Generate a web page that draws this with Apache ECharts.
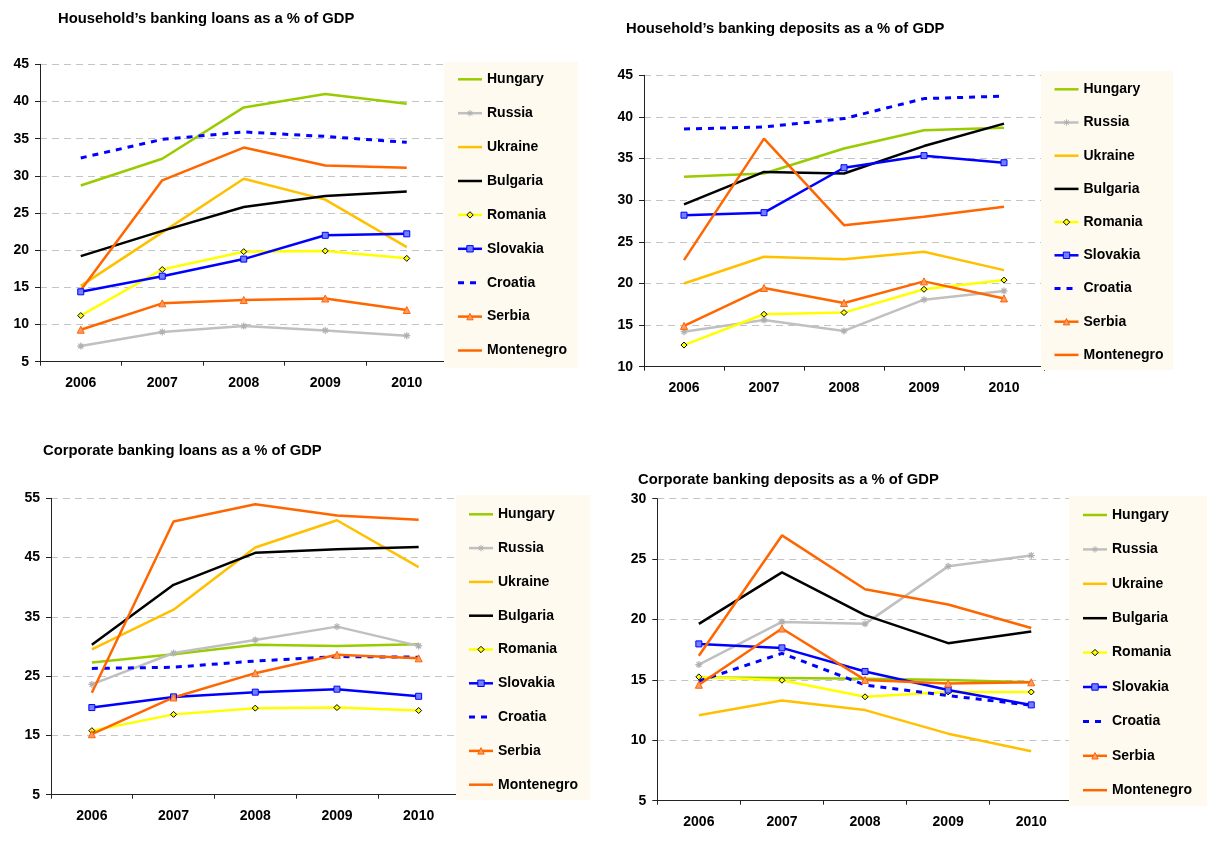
<!DOCTYPE html>
<html>
<head>
<meta charset="utf-8">
<script src="https://cdn.jsdelivr.net/npm/echarts@6/dist/echarts.min.js"></script>
<style>
html,body{margin:0;padding:0;background:#fff;}
#chart{width:1207px;height:843px;}
</style>
</head>
<body>
<div id="chart"></div>
<script>
// ---------- data ----------
const years = ['2006', '2007', '2008', '2009', '2010'];
const countries = ['Hungary', 'Russia', 'Ukraine', 'Bulgaria', 'Romania', 'Slovakia', 'Croatia', 'Serbia', 'Montenegro'];
const titles = [
  'Household\u2019s banking loans as a % of GDP',
  'Household\u2019s banking deposits as a % of GDP',
  'Corporate banking loans as a % of GDP',
  'Corporate banking deposits as a % of GDP'
];

// Household's banking loans
const hhLoansHungary    = [28.7, 32.3, 39.2, 41.0, 39.7];
const hhLoansRussia     = [7.1, 9.0, 9.8, 9.2, 8.5];
const hhLoansUkraine    = [15.2, 22.4, 29.6, 26.8, 20.4];
const hhLoansBulgaria   = [19.2, 22.6, 25.8, 27.3, 27.9];
const hhLoansRomania    = [11.2, 17.4, 19.8, 19.9, 18.9];
const hhLoansSlovakia   = [14.4, 16.5, 18.8, 22.0, 22.2];
const hhLoansCroatia    = [32.4, 34.9, 35.9, 35.3, 34.5];
const hhLoansSerbia     = [9.3, 12.85, 13.3, 13.5, 11.95];
const hhLoansMontenegro = [14.6, 29.4, 33.8, 31.4, 31.1];

// Household's banking deposits
const hhDepHungary    = [32.8, 33.2, 36.2, 38.4, 38.7];
const hhDepRussia     = [14.2, 15.6, 14.3, 18.05, 19.1];
const hhDepUkraine    = [20.0, 23.2, 22.9, 23.8, 21.6];
const hhDepBulgaria   = [29.5, 33.4, 33.2, 36.5, 39.2];
const hhDepRomania    = [12.6, 16.3, 16.5, 19.3, 20.4];
const hhDepSlovakia   = [28.2, 28.5, 33.9, 35.35, 34.5];
const hhDepCroatia    = [38.55, 38.8, 39.8, 42.2, 42.5];
const hhDepSerbia     = [14.9, 19.45, 17.65, 20.25, 18.2];
const hhDepMontenegro = [22.8, 37.4, 27.0, 28.0, 29.2];

// Corporate banking loans
const corpLoansHungary    = [27.3, 28.7, 30.3, 30.1, 30.4];
const corpLoansRussia     = [23.6, 28.9, 31.1, 33.35, 30.1];
const corpLoansUkraine    = [29.5, 36.2, 46.7, 51.3, 43.4];
const corpLoansBulgaria   = [30.3, 40.4, 45.8, 46.4, 46.8];
const corpLoansRomania    = [15.8, 18.55, 19.6, 19.7, 19.2];
const corpLoansSlovakia   = [19.7, 21.5, 22.3, 22.8, 21.6];
const corpLoansCroatia    = [26.3, 26.5, 27.55, 28.3, 28.2];
const corpLoansSerbia     = [15.2, 21.4, 25.5, 28.6, 28.0];
const corpLoansMontenegro = [22.2, 51.1, 54.0, 52.1, 51.4];

// Corporate banking deposits
const corpDepHungary    = [15.2, 15.15, 15.1, 15.0, 14.8];
const corpDepRussia     = [16.27, 19.8, 19.64, 24.4, 25.3];
const corpDepUkraine    = [12.07, 13.3, 12.5, 10.55, 9.1];
const corpDepBulgaria   = [19.64, 23.9, 20.36, 18.04, 19.0];
const corpDepRomania    = [15.25, 14.97, 13.6, 14.0, 14.0];
const corpDepSlovakia   = [17.98, 17.65, 15.7, 14.16, 12.93];
const corpDepCroatia    = [14.9, 17.2, 14.58, 13.7, 12.9];
const corpDepSerbia     = [14.6, 19.25, 15.0, 14.7, 14.8];
const corpDepMontenegro = [17.0, 26.96, 22.5, 21.24, 19.3];

// y-axis ranges (min, max, step)
const yMin = [5, 10, 5, 5];
const yMax = [45, 45, 55, 30];
const yStep = [5, 5, 10, 5];

const panelData = [
  [hhLoansHungary, hhLoansRussia, hhLoansUkraine, hhLoansBulgaria, hhLoansRomania, hhLoansSlovakia, hhLoansCroatia, hhLoansSerbia, hhLoansMontenegro],
  [hhDepHungary, hhDepRussia, hhDepUkraine, hhDepBulgaria, hhDepRomania, hhDepSlovakia, hhDepCroatia, hhDepSerbia, hhDepMontenegro],
  [corpLoansHungary, corpLoansRussia, corpLoansUkraine, corpLoansBulgaria, corpLoansRomania, corpLoansSlovakia, corpLoansCroatia, corpLoansSerbia, corpLoansMontenegro],
  [corpDepHungary, corpDepRussia, corpDepUkraine, corpDepBulgaria, corpDepRomania, corpDepSlovakia, corpDepCroatia, corpDepSerbia, corpDepMontenegro]
];

// ---------- styles ----------
const FONT = '"Liberation Sans", Arial, sans-serif';
const asterisk = 'path://M0,5L10,5M5,0L5,10M1.5,1.5L8.5,8.5M8.5,1.5L1.5,8.5';
const styles = {
  Hungary:    {color: '#99CC00', symbol: 'none'},
  Russia:     {color: '#C0C0C0', symbol: asterisk, size: 7, itemStyle: {color: '#C0C0C0', borderColor: '#B0B0B0', borderWidth: 1.2}},
  Ukraine:    {color: '#FFC000', symbol: 'none'},
  Bulgaria:   {color: '#000000', symbol: 'none'},
  Romania:    {color: '#FFFF00', symbol: 'diamond', size: 6, itemStyle: {color: '#FFFF00', borderColor: '#000000', borderWidth: 1}},
  Slovakia:   {color: '#0000FF', symbol: 'rect', size: 6, itemStyle: {color: '#7080FF', borderColor: '#0000FF', borderWidth: 1}},
  Croatia:    {color: '#0000FF', symbol: 'none', dash: [6, 6], width: 3},
  Serbia:     {color: '#FF6600', symbol: 'triangle', size: 7, itemStyle: {color: '#FF9966', borderColor: '#FF6600', borderWidth: 1}},
  Montenegro: {color: '#FF6600', symbol: 'none'}
};

const grids = [
  {left: 40, top: 64.3, width: 407.5, height: 297.4},
  {left: 644, top: 75.3, width: 400, height: 291.4},
  {left: 51, top: 498.3, width: 408.5, height: 296.4},
  {left: 657.3, top: 498.7, width: 415.5, height: 302}
];
const titlePos = [
  {left: 58, top: 11},
  {left: 626, top: 21},
  {left: 43, top: 443},
  {left: 638, top: 472}
];
const legendBoxes = [
  {x: 444, y: 62, w: 134, h: 306},
  {x: 1041, y: 71, w: 132, h: 299},
  {x: 456, y: 495, w: 134, h: 305},
  {x: 1069, y: 496, w: 138, h: 310}
];
const legendPos = [
  {left: 456.5, top: 72.3, gap: 19.9},
  {left: 1053, top: 82.3, gap: 19.2},
  {left: 467.5, top: 507.3, gap: 19.8},
  {left: 1081.5, top: 508, gap: 20.4}
];

const legendItems = countries.map(name => {
  const s = styles[name];
  const item = {name: name};
  if (s.symbol === 'none') {
    item.itemStyle = {opacity: 0};
  }
  item.lineStyle = {width: s.width || 2.5};
  return item;
});

const option = {
  animation: false,
  backgroundColor: '#ffffff',
  textStyle: {fontFamily: FONT},
  title: titles.map((t, i) => ({
    text: t, left: titlePos[i].left, top: titlePos[i].top, padding: 0,
    textStyle: {fontFamily: FONT, fontSize: 14.8, fontWeight: 'bold', color: '#000'}
  })),
  grid: grids.map(g => Object.assign({outerBoundsMode: 'none', containLabel: false}, g)),
  xAxis: grids.map((g, i) => ({
    type: 'category', gridIndex: i, data: years, boundaryGap: true,
    axisLine: {show: true, lineStyle: {color: '#222', width: 1}},
    axisTick: {show: true, length: 4, inside: false, alignWithLabel: false, lineStyle: {color: '#222'}},
    axisLabel: {fontFamily: FONT, fontSize: 14, fontWeight: 'bold', color: '#000', margin: 14},
    splitLine: {show: false}
  })),
  yAxis: grids.map((g, i) => ({
    type: 'value', gridIndex: i, min: yMin[i], max: yMax[i], interval: yStep[i],
    axisLine: {show: true, lineStyle: {color: '#222', width: 1}},
    axisTick: {show: true, length: 5, inside: false, lineStyle: {color: '#222'}},
    axisLabel: {fontFamily: FONT, fontSize: 14, fontWeight: 'bold', color: '#000', margin: 11},
    splitLine: {show: true, lineStyle: {color: '#C4C4C4', type: [7, 5], width: 1}}
  })),
  graphic: legendBoxes.map(b => ({
    type: 'rect', z: 3, silent: true,
    shape: {x: b.x, y: b.y, width: b.w, height: b.h},
    style: {fill: '#FEFAF0'}
  })),
  legend: legendPos.map(p => ({
    orient: 'vertical', left: p.left, top: p.top, padding: 0, itemGap: p.gap,
    itemWidth: 24, itemHeight: 8, z: 5,
    itemStyle: {borderWidth: 1},
    data: legendItems,
    textStyle: {fontFamily: FONT, fontSize: 14, fontWeight: 'bold', color: '#000'}
  })),
  series: []
};

panelData.forEach((rows, gi) => {
  rows.forEach((vals, ci) => {
    const name = countries[ci];
    const s = styles[name];
    option.series.push({
      type: 'line', name: name, xAxisIndex: gi, yAxisIndex: gi,
      data: vals,
      symbol: s.symbol, symbolSize: s.size || 0, showSymbol: s.symbol !== 'none',
      lineStyle: {color: s.color, width: s.width || 2.5, type: s.dash || 'solid'},
      itemStyle: s.itemStyle || {color: s.color},
      emphasis: {disabled: true},
      z: 2
    });
  });
});

const chart = echarts.init(document.getElementById('chart'), null, {renderer: 'canvas'});
chart.setOption(option);
</script>
</body>
</html>
